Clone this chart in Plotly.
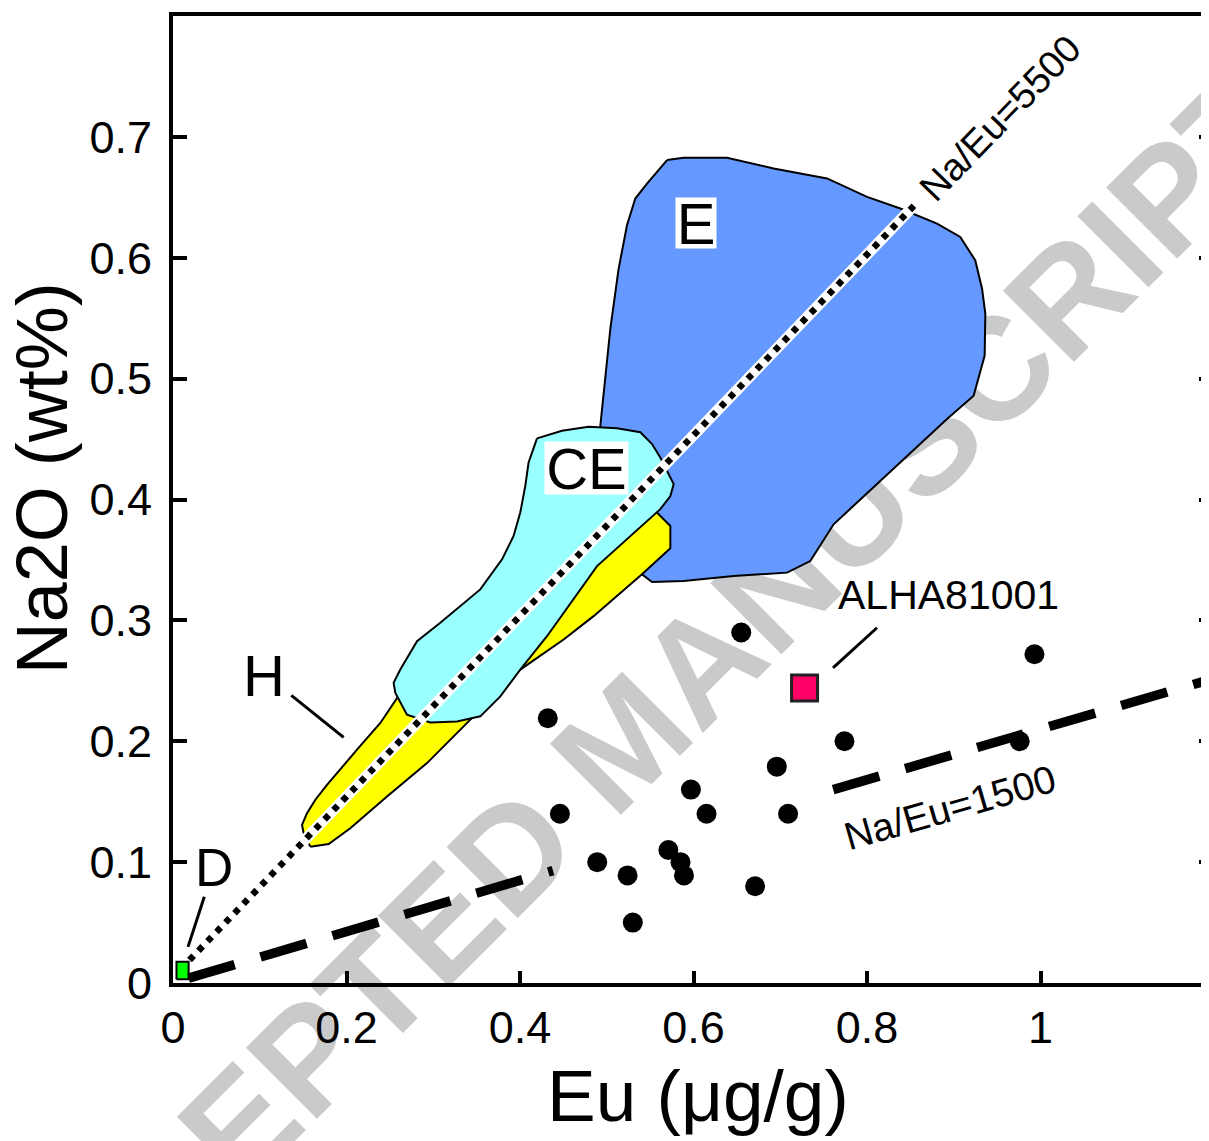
import plotly.graph_objects as go

# ---------------- data ----------------
# individual samples (black dots)
eu_samples = [0.655, 0.432, 0.774, 0.696, 0.597, 0.446, 0.615, 0.709, 0.571,
              0.585, 0.489, 0.589, 0.524, 0.671, 0.530, 0.993, 0.976]
na2o_samples = [0.290, 0.219, 0.200, 0.179, 0.160, 0.140, 0.140, 0.140, 0.110,
                0.100, 0.100, 0.089, 0.089, 0.080, 0.050, 0.272, 0.200]

# ALHA81001
alha_eu = [0.728]
alha_na2o = [0.244]

# E chondrite field
field_E_eu = [0.5695, 0.5886, 0.6386, 0.6923, 0.7539, 0.8000, 0.8384, 0.8807,
              0.9075, 0.9248, 0.9326, 0.9364, 0.9356, 0.9229, 0.8922, 0.8384,
              0.7961, 0.7615, 0.7346, 0.7078, 0.6462, 0.5886, 0.5522, 0.5406,
              0.5271, 0.5098, 0.4926, 0.5041, 0.5137, 0.5233, 0.5329, 0.5464]
field_E_na2o = [0.6808, 0.6828, 0.6828, 0.6739, 0.6656, 0.6504, 0.6407, 0.6283,
                0.6172, 0.5978, 0.5744, 0.5536, 0.5191, 0.4859, 0.4666, 0.4307,
                0.4030, 0.3795, 0.3491, 0.3395, 0.3367, 0.3325, 0.3317, 0.3381,
                0.3671, 0.4168, 0.4610, 0.5412, 0.5910, 0.6269, 0.6490, 0.6614]

# H chondrite field
field_H_eu = [0.1583, 0.1794, 0.2044, 0.2467, 0.2928, 0.3427, 0.4003, 0.4503,
              0.4848, 0.5406, 0.5733, 0.5733, 0.5579, 0.4926, 0.3197, 0.2586,
              0.2390, 0.2121, 0.1775, 0.1641, 0.1545, 0.1487, 0.1506]
field_H_na2o = [0.1128, 0.1150, 0.1280, 0.1542, 0.1819, 0.2178, 0.2593, 0.2842,
                0.3035, 0.3381, 0.3597, 0.3781, 0.3892, 0.3795, 0.2842, 0.2360,
                0.2151, 0.1930, 0.1639, 0.1516, 0.1405, 0.1308, 0.1239]

# CE field
field_CE_eu = [0.4196, 0.4484, 0.4791, 0.5118, 0.5387, 0.5522, 0.5617, 0.5713,
               0.5771, 0.5732, 0.5617, 0.4888, 0.4618, 0.4311, 0.4003, 0.3773,
               0.3542, 0.3274, 0.2966, 0.2697, 0.2563, 0.2543, 0.2620, 0.2813,
               0.3081, 0.3542, 0.3793, 0.3926, 0.4003, 0.4061, 0.4099]
field_CE_na2o = [0.4506, 0.4569, 0.4602, 0.4589, 0.4556, 0.4459, 0.4348, 0.4210,
                 0.4127, 0.4027, 0.3920, 0.3449, 0.3173, 0.2869, 0.2593, 0.2371,
                 0.2206, 0.2164, 0.2156, 0.2220, 0.2400, 0.2483, 0.2593, 0.2828,
                 0.2980, 0.3256, 0.3505, 0.3698, 0.3892, 0.4113, 0.4307]

# D field (tiny)
field_D_eu = [0.004, 0.018, 0.018, 0.004]
field_D_na2o = [0.003, 0.003, 0.0175, 0.0175]

# reference ratio lines
ratio5500_eu = [0.019, 0.854]
ratio5500_na2o = [0.019, 0.643]
ratio1500a_eu = [0.018, 0.438]
ratio1500a_na2o = [0.004, 0.093]
ratio1500b_eu = [0.761, 1.2]
ratio1500b_na2o = [0.160, 0.252]

x_tick_vals = [0, 0.2, 0.4, 0.6, 0.8, 1.0]
x_tick_text = ["0", "0.2", "0.4", "0.6", "0.8", "1"]
y_tick_vals = [0, 0.1, 0.2, 0.3, 0.4, 0.5, 0.6, 0.7]
y_tick_text = ["0", "0.1", "0.2", "0.3", "0.4", "0.5", "0.6", "0.7"]

# ---------------- figure ----------------
def closed(a):
    return list(a) + [a[0]]

fig = go.Figure()

def field(xs, ys, color):
    fig.add_trace(go.Scatter(x=closed(xs), y=closed(ys), mode="lines", fill="toself",
                             fillcolor=color, line=dict(color="black", width=2),
                             hoverinfo="skip", showlegend=False))

field(field_E_eu, field_E_na2o, "#6699ff")
field(field_H_eu, field_H_na2o, "#ffff00")
field(field_CE_eu, field_CE_na2o, "#99ffff")
field(field_D_eu, field_D_na2o, "#00ff00")

# Na/Eu = 5500 dotted line with white casing
fig.add_trace(go.Scatter(x=ratio5500_eu, y=ratio5500_na2o, mode="lines",
                         line=dict(color="white", width=11), showlegend=False, hoverinfo="skip"))
fig.add_trace(go.Scatter(x=ratio5500_eu, y=ratio5500_na2o, mode="lines",
                         line=dict(color="black", width=6.5, dash="6px,7px"),
                         showlegend=False, hoverinfo="skip"))

# Na/Eu = 1500 dashed line (two pieces)
for xs, ys in ((ratio1500a_eu, ratio1500a_na2o), (ratio1500b_eu, ratio1500b_na2o)):
    fig.add_trace(go.Scatter(x=xs, y=ys, mode="lines",
                             line=dict(color="black", width=9.5, dash="48px,27px"),
                             showlegend=False, hoverinfo="skip"))

# samples
fig.add_trace(go.Scatter(x=eu_samples, y=na2o_samples, mode="markers",
                         marker=dict(color="black", size=20, line=dict(width=0)),
                         showlegend=False))
fig.add_trace(go.Scatter(x=alha_eu, y=alha_na2o, mode="markers",
                         marker=dict(symbol="square", color="#ff0066", size=26,
                                     line=dict(color="#222222", width=3)),
                         showlegend=False))

# dummy trace for right-hand mirrored ticks
fig.add_trace(go.Scatter(x=[], y=[], yaxis="y2", showlegend=False, hoverinfo="skip"))

text_font = "Liberation Sans, Arial, sans-serif"
tick_font = dict(family=text_font, size=45, color="black")

fig.update_layout(
    width=1209, height=1141,
    # the page body adds an 8px offset; margins compensate for it
    margin=dict(l=165, r=8, t=8, b=166),
    paper_bgcolor="white", plot_bgcolor="rgba(0,0,0,0)",
    showlegend=False,
    xaxis=dict(range=[0, 1.1942], showgrid=False, zeroline=False, automargin=False,
               showline=True, linecolor="black", linewidth=4, mirror=True,
               ticks="inside", ticklen=12, tickwidth=4, tickcolor="black",
               tickvals=x_tick_vals, ticktext=x_tick_text, tickfont=tick_font,
               ticklabelstandoff=2),
    yaxis=dict(range=[0, 0.8], showgrid=False, zeroline=False, automargin=False,
               showline=True, linecolor="black", linewidth=4,
               ticks="inside", ticklen=14, tickwidth=4, tickcolor="black",
               tickvals=y_tick_vals, ticktext=y_tick_text, tickfont=tick_font,
               ticklabelstandoff=8),
    yaxis2=dict(range=[0, 0.8], overlaying="y", side="right", showgrid=False,
                zeroline=False, showline=False, showticklabels=False, automargin=False,
                ticks="inside", ticklen=10, tickwidth=4, tickcolor="black",
                tickvals=y_tick_vals),
)

# watermark (behind data)
fig.add_shape(type="line", xref="paper", yref="paper",
              x0=0.4159, y0=0.2513, x1=0.4359, y1=0.2713,
              line=dict(color="rgba(0,0,0,0)", width=0), layer="below",
              label=dict(text="ACCEPTED MANUSCRIPT", textangle=-45, textposition="middle",
                         xanchor="center", yanchor="middle", padding=0,
                         font=dict(size=146, color="#c9cacc", family=text_font, weight="bold")))

# leader lines
leaders = [((0.1364, 0.238), (0.1967, 0.2032)),
           ((0.0361, 0.0713), (0.0173, 0.0299)),
           ((0.8115, 0.2939), (0.7608, 0.2607))]
for (xa, ya), (xb, yb) in leaders:
    fig.add_shape(type="line", xref="x", yref="y", x0=xa, y0=ya, x1=xb, y1=yb,
                  line=dict(color="black", width=3))

def label(text, x, y, size, **kw):
    fig.add_annotation(text=text, x=x, y=y, xref="x", yref="y", showarrow=False,
                       font=dict(family=text_font, size=size, color="black"),
                       xanchor="center", yanchor="middle", **kw)

label("H", 0.1053, 0.2541, 58)
label("D", 0.0476, 0.0952, 53)
label("E", 0.6032, 0.629, 58, bgcolor="white", width=40, height=50, borderpad=0)
label("CE", 0.477, 0.426, 58, bgcolor="white", width=83, height=52, borderpad=0)
label("ALHA81001", 0.8937, 0.3207, 41)
label("Na/Eu=1500", 0.896, 0.145, 39, textangle=-16)
label("Na/Eu=5500", 0.9537, 0.7155, 38, textangle=-46)

# axis titles
fig.add_annotation(text="Eu (μg/g)", xref="paper", yref="paper", x=0.5068, y=-0.1166,
                   showarrow=False, xanchor="center", yanchor="middle",
                   font=dict(family=text_font, size=73, color="black"))
fig.add_annotation(text="Na2O (wt%)", xref="paper", yref="paper", x=-0.1269, y=0.5214,
                   showarrow=False, xanchor="center", yanchor="middle", textangle=-90,
                   font=dict(family=text_font, size=72, color="black"))

fig.write_html("out.html")
